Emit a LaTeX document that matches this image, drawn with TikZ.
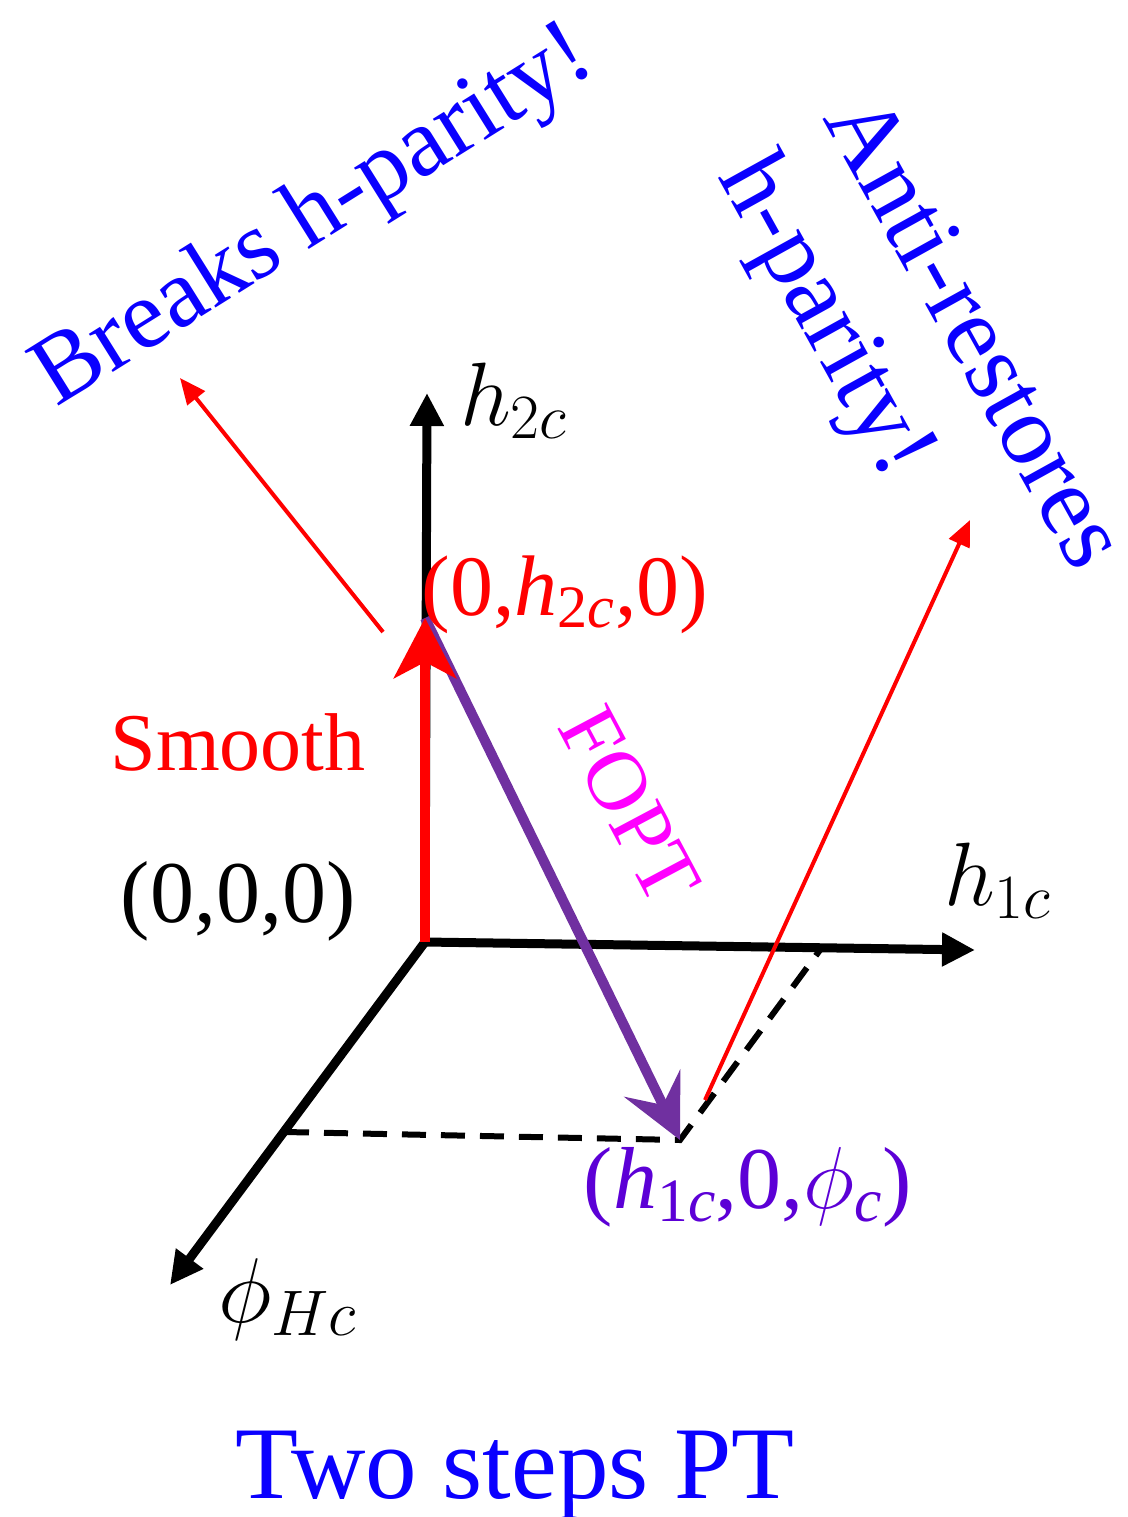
\RequirePackage{fix-cm}
\documentclass[tikz,border=0pt]{standalone}
\usepackage{fontspec}
\setmainfont{Liberation Serif}
\usetikzlibrary{arrows.meta}
\definecolor{myblue}{RGB}{10,0,255}
\definecolor{mypurple}{RGB}{112,48,160}
\definecolor{labpurple}{RGB}{92,0,214}
\definecolor{mymag}{RGB}{255,0,255}
\definecolor{myred}{RGB}{255,0,0}
\newcommand\fsz[1]{\fontsize{#1}{#1}\selectfont}
\begin{document}
\begin{tikzpicture}[x=1pt,y=-1pt,
  every node/.style={inner sep=0pt},
  axisline/.style={line width=9pt,-{Triangle[length=33pt,width=32pt]}},
  dashline/.style={line width=6pt,dash pattern=on 24pt off 15pt},
  fopt/.style={line width=10pt,color=mypurple,-{Stealth[length=63pt,width=62pt,inset=24pt]}},
  smooth/.style={line width=10pt,color=myred,-{Stealth[length=60pt,width=62pt,inset=16pt]}},
  thinred/.style={line width=4pt,color=myred,-{Triangle[length=26pt,width=22pt]}},
  bluetext/.style={text=myblue,anchor=base west},
]
\useasboundingbox (0,0) rectangle (1127,1517);
% points
\coordinate (O) at (425,942);
\coordinate (Ztip) at (427,393);
\coordinate (Xtip) at (975,950);
\coordinate (Ptip) at (170,1285);
\coordinate (A) at (425,618);
\coordinate (B) at (680,1140);
\coordinate (D1) at (285,1132);
\coordinate (D2) at (820,950);
\coordinate (R1s) at (383,632);
\coordinate (R1e) at (180,378);
\coordinate (R2s) at (705,1100);
\coordinate (R2e) at (970,520);
% axes
\draw[axisline] (O) -- (Ztip);
\draw[axisline] (O) -- (Xtip);
\draw[axisline] (O) -- (Ptip);
% dashed projection
\draw[dashline] (D1) -- (B) -- (D2);
% transitions
\draw[fopt] (A) -- (B);
\draw[smooth] (O) -- (A);
\draw[thinred] (R1s) -- (R1e);
\draw[thinred] (R2s) -- (R2e);
% labels
\node[anchor=base west,font=\fsz{90}] (lz) at (460,425) {$h_{2c}$};
\node[anchor=base west,font=\fsz{90}] (lx) at (944,905) {$h_{1c}$};
\node[anchor=base west,font=\fsz{92}] (lp) at (218,1322) {$\phi_{Hc}$};
\node[anchor=base,font=\fsz{82},text=myred] (lsmooth) at (238,770) {Smooth};
\node[anchor=base,font=\fsz{88}] (lorig) at (238,922) {(0,0,0)};
\node[anchor=base,font=\fsz{86},text=myred] (lA) at (565,615) {(0,\textit{h}\textsubscript{2\textit{c}},0)};
\node[anchor=base,font=\fsz{88},text=labpurple] (lB) at (748,1208) {(\textit{h}\textsubscript{1\textit{c}},0,$\phi$\textsubscript{\textit{c}})};
\node[font=\fsz{85},text=mymag,rotate=-62] (lfopt) at (630,805) {FOPT};
\node[anchor=base,font=\fsz{103},text=myblue] (ltitle) at (515,1498) {Two steps PT};
\node[bluetext,font=\fsz{98},rotate=32] (lbreak) at (56,408) {Breaks h-parity!};
\node[bluetext,font=\fsz{100},rotate=-61] (lanti1) at (822,118) {Anti-restores};
\node[bluetext,font=\fsz{100},rotate=-61] (lanti2) at (717,176) {h-parity!};
\end{tikzpicture}
\end{document}
